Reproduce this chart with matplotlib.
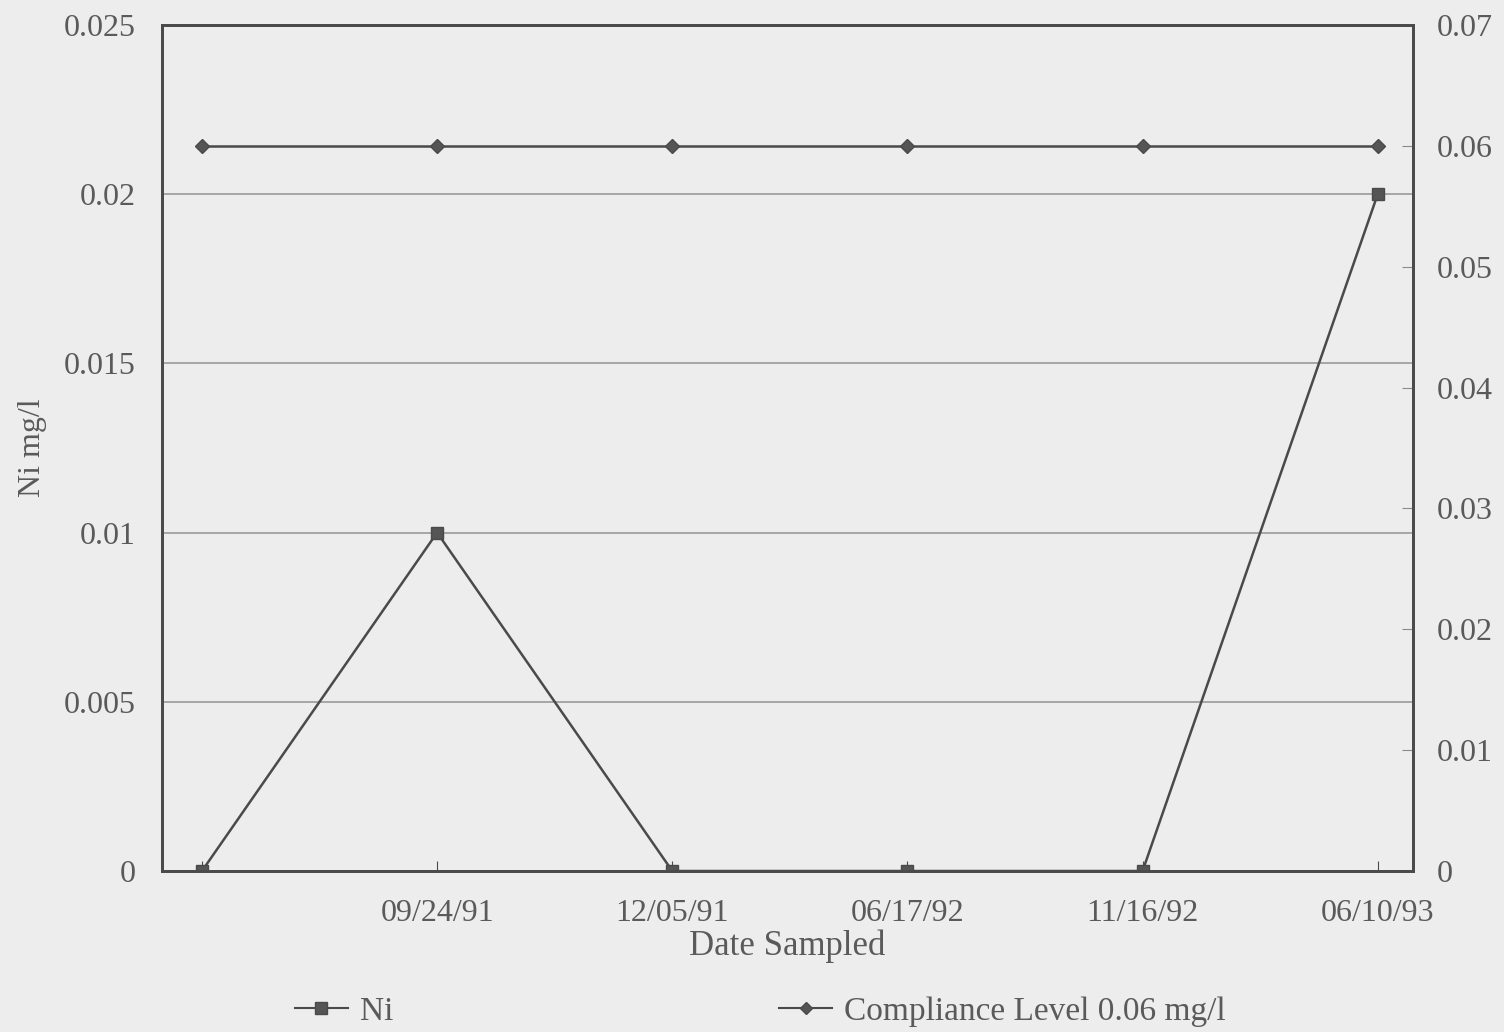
import matplotlib.pyplot as plt
from matplotlib.lines import Line2D

dates = ["", "09/24/91", "12/05/91", "06/17/92", "11/16/92", "06/10/93"]
ni = [0, 0.01, 0, 0, 0, 0.02]
compliance = [0.06, 0.06, 0.06, 0.06, 0.06, 0.06]

left_ticks = [0, 0.005, 0.01, 0.015, 0.02, 0.025]
left_labels = ["0", "0.005", "0.01", "0.015", "0.02", "0.025"]
right_ticks = [0, 0.01, 0.02, 0.03, 0.04, 0.05, 0.06, 0.07]
right_labels = ["0", "0.01", "0.02", "0.03", "0.04", "0.05", "0.06", "0.07"]

BG = "#ededed"
INK = "#4a4a4a"
TXT = "#5a5a5a"

plt.rcParams['font.family'] = ['Liberation Serif', 'DejaVu Serif']

fig = plt.figure(figsize=(15.04, 10.32), dpi=100, facecolor=BG)
ax = fig.add_axes([0.1077, 0.156, 0.8318, 0.8198], facecolor=BG)
x = list(range(len(dates)))

ax.plot(x, ni, color=INK, lw=1.8, marker='s', ms=9, mfc="#555555", mec=INK, zorder=3)
ax.set_ylim(0, 0.025)
ax.set_xlim(-0.17, 5.15)
ax.set_yticks(left_ticks)
ax.set_yticklabels(left_labels)
ax.set_xticks(x)
ax.set_xticklabels(dates)
ax.yaxis.grid(True, color="#9a9a9a", lw=1.2)
ax.set_axisbelow(True)
ax.tick_params(axis='y', length=0, pad=19, labelsize=23, labelcolor=TXT)
ax.tick_params(axis='x', direction='in', length=7, color=INK, pad=20, labelsize=23, labelcolor=TXT)
for s in ax.spines.values():
    s.set_color(INK)
    s.set_linewidth(2)
ax.set_ylabel("Ni mg/l", fontsize=23, color=TXT, labelpad=12)
ax.set_xlabel("Date Sampled", fontsize=25, color=TXT, labelpad=1)

ax2 = ax.twinx()
ax2.plot(x, compliance, color=INK, lw=1.8, marker='D', ms=7, mfc="#555555", mec=INK, zorder=3)
ax2.set_ylim(0, 0.07)
ax2.set_yticks(right_ticks)
ax2.set_yticklabels(right_labels)
ax2.tick_params(axis='y', direction='in', length=8, color="#8a8a8a", pad=17, labelsize=23, labelcolor=TXT)
for s in ax2.spines.values():
    s.set_color(INK)
    s.set_linewidth(2)

h1 = Line2D([], [], color=INK, lw=1.5, marker='s', ms=8, mfc="#555555", mec=INK)
h2 = Line2D([], [], color=INK, lw=1.5, marker='D', ms=6, mfc="#555555", mec=INK)
fig.legend([h1], ["Ni"], loc='center left', bbox_to_anchor=(0.176, 0.02),
           frameon=False, fontsize=24, labelcolor=TXT, handlelength=1.6, handletextpad=0.35)
fig.legend([h2], ["Compliance Level 0.06 mg/l"], loc='center left', bbox_to_anchor=(0.498, 0.02),
           frameon=False, fontsize=24, labelcolor=TXT, handlelength=1.6, handletextpad=0.35)

fig.savefig("out.png", dpi=100, facecolor=BG)
